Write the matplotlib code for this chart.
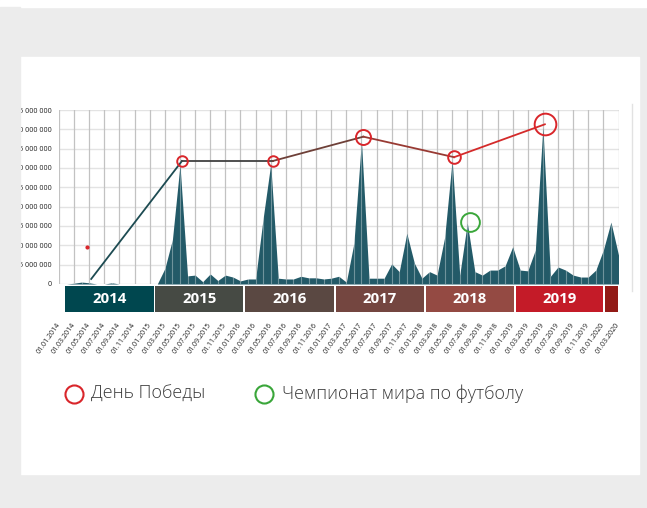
import numpy as np
import pandas as pd
import matplotlib
matplotlib.use("Agg")
import matplotlib.pyplot as plt
from matplotlib.patches import Rectangle
from matplotlib.lines import Line2D
from matplotlib.transforms import blended_transform_factory

# monthly values, millions, Jan 2014 .. Mar 2020
months = pd.date_range("2014-01-01", "2020-03-01", freq="MS")
visits = [0, 0, 0.2, 0.5, 0.3, 0, 0, 0.3, 0, 0, 0, 0,
          0, 0, 4.0, 11.5, 30.8, 2.1, 2.3, 0.6, 2.6, 0.9, 2.3, 1.8,
          0.8, 1.3, 1.3, 17.0, 31.0, 1.5, 1.3, 1.3, 2.0, 1.6, 1.6, 1.3,
          1.5, 2.0, 0.5, 10.5, 37.0, 1.5, 1.5, 1.5, 5.2, 3.2, 13.1, 5.4,
          1.5, 3.2, 2.3, 12.0, 32.0, 2.3, 15.8, 3.2, 2.3, 3.6, 3.6, 4.7,
          9.6, 3.6, 3.4, 8.8, 40.5, 2.0, 4.4, 3.6, 2.3, 1.8, 1.8, 3.6,
          8.8, 16.0, 7.5]

# Victory day (9 May) values, millions
victory_years = [2014, 2015, 2016, 2017, 2018, 2019]
victory_values = [1.3, 31.8, 31.8, 38.1, 32.8, 41.3]

# World cup marker
cup_month = 54.4
cup_value = 16.0

years = ["2014", "2015", "2016", "2017", "2018", "2019", ""]
year_colors = ["#00474f", "#464a44", "#5a4842", "#744640", "#944a43", "#c41b28", "#921a16"]
band_start = [0.79, 12.74, 24.6, 36.6, 48.5, 60.4, 72.22]
band_end = [12.57, 24.38, 36.38, 48.28, 60.19, 72.0, 73.98]

x = np.arange(len(months))
y = np.array(visits) * 1e6
vx = [12 * (yr - 2014) + 4 + 8 / 31 for yr in victory_years]
vy = np.array(victory_values) * 1e6

fig = plt.figure(figsize=(6.47, 5.08), dpi=100, facecolor="#ececec")
fig.add_artist(Rectangle((20 / 647, 1 - 474 / 508), 619 / 647, 417 / 508,
                         transform=fig.transFigure, color="white", zorder=-2))
fig.add_artist(Rectangle((0, 1 - 7 / 508), 1, 7 / 508,
                         transform=fig.transFigure, color="white", zorder=-2))
fig.add_artist(Line2D([632 / 647, 632 / 647], [1 - 104 / 508, 1 - 291 / 508],
                      transform=fig.transFigure, color="#e2e2e2", lw=1))

ax = fig.add_axes([59 / 647, 224 / 508, 559.5 / 647, 174 / 508])
ax.set_xlim(0, 74)
ax.set_ylim(0, 45e6)
for s in ax.spines.values():
    s.set_visible(False)

# grid
for v in np.arange(0, 45e6 + 1, 5e6):
    ax.axhline(v, color="#e3e3e3", lw=1, zorder=0)
for m in range(0, 75, 2):
    ax.axvline(m, color="#c2c2c2", lw=0.9, zorder=0)

area = ax.fill_between(x, y, color="#235a68", lw=0, zorder=2)
lc = ax.vlines(x, 0, 45e6, colors="white", alpha=0.35, lw=0.8, zorder=3)
lc.set_clip_path(area.get_paths()[0], ax.transData)

# Victory day line
seg_colors = ["#1d4b52", "#414141", "#6e4038", "#983a33", "#d42a2a"]
for i in range(len(vx) - 1):
    ax.plot(vx[i:i + 2], vy[i:i + 2], color=seg_colors[i], lw=1.3, zorder=4)
circle_sizes = [7.6, 7.6, 10.8, 9.1, 15.6]
for i in range(1, len(vx)):
    ax.plot(vx[i], vy[i], marker="o", ms=circle_sizes[i - 1], mfc="none",
            mec="#d9262b", mew=1.4, zorder=5)
ax.plot(3.7, 9.6e6, marker="o", ms=3, color="#d9262b", mec="none", zorder=5)
ax.plot(cup_month, cup_value * 1e6, marker="o", ms=13.5, mfc="none",
        mec="#3aa63a", mew=1.4, zorder=5)

# ticks
ax.set_yticks(np.arange(0, 45e6 + 1, 5e6))
ax.set_yticklabels([f"{int(v):,}".replace(",", " ") for v in np.arange(0, 45e6 + 1, 5e6)],
                   fontsize=5.2, color="#222222", fontfamily="Open Sans")
ax.set_xticks(x[::2])
ax.set_xticklabels([d.strftime("%d.%m.%Y") for d in months[::2]],
                   fontsize=5, color="#1a1a1a", fontfamily="Open Sans",
                   rotation=55, ha="right", va="center", rotation_mode="anchor")
ax.tick_params(axis="both", length=0)
ax.tick_params(axis="y", pad=5)
ax.tick_params(axis="x", pad=28.5)

# year bands
tr = blended_transform_factory(ax.transData, ax.transAxes)
for i in range(len(years)):
    ax.add_patch(Rectangle((band_start[i], -0.161), band_end[i] - band_start[i], 0.149,
                           transform=tr, color=year_colors[i], clip_on=False, lw=0))
    ax.text((band_start[i] + band_end[i]) / 2, -0.088, years[i], transform=tr,
            ha="center", va="center", color="white", fontsize=10.8,
            fontweight="bold", fontfamily="Open Sans")

# cover clipped y labels on the left
fig.add_artist(Rectangle((0, 0), 20 / 647, 1 - 7 / 508, transform=fig.transFigure,
                         color="#ececec", zorder=10))

# legend
fig.add_artist(Line2D([74 / 647], [1 - 394 / 508], marker="o", ms=13, mfc="none",
                      mec="#d9262b", mew=1.5, ls="none", transform=fig.transFigure))
fig.text(91 / 647, 1 - 394 / 508, "День Победы", va="center", fontsize=13,
         color="#3a3a3a", fontfamily="Open Sans", fontweight="light")
fig.add_artist(Line2D([264 / 647], [1 - 394 / 508], marker="o", ms=13, mfc="none",
                      mec="#3aa63a", mew=1.5, ls="none", transform=fig.transFigure))
fig.text(282 / 647, 1 - 394 / 508, "Чемпионат мира по футболу", va="center", fontsize=13,
         color="#3a3a3a", fontfamily="Open Sans", fontweight="light")

fig.savefig("out.png", dpi=100, facecolor=fig.get_facecolor())
